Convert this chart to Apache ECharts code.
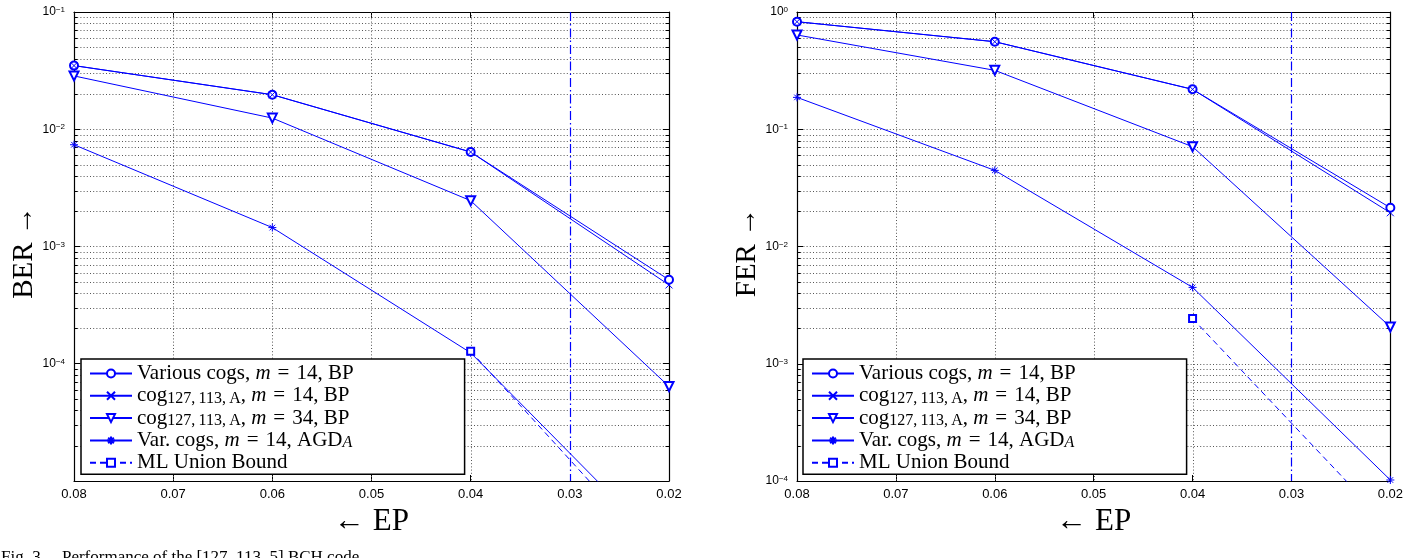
<!DOCTYPE html>
<html>
<head>
<meta charset="utf-8">
<script src="https://cdn.jsdelivr.net/npm/echarts@6/dist/echarts.min.js"></script>
<style>
html,body{margin:0;padding:0;background:#fff;}
#c{width:1406px;height:558px;}
</style>
</head>
<body>
<div id="c"></div>
<script>
// ---- data ----
const epPoints = [0.08, 0.06, 0.04, 0.02];
const mlPoints = [0.04, 0.02];
const xTicks = [0.08, 0.07, 0.06, 0.05, 0.04, 0.03, 0.02];

const berVarious = [0.0349, 0.0197, 0.0064, 5.2e-4];
const berCog14   = [0.0349, 0.0197, 0.0064, 4.7e-4];
const berCog34   = [0.0285, 0.01245, 0.00246, 6.4e-5];
const berAGD     = [0.00738, 0.00145, 1.24e-4, 2.4e-6];
const berML      = [1.28e-4, 1.8e-6];

const ferVarious = [0.826, 0.558, 0.219, 0.0214];
const ferCog14   = [0.826, 0.558, 0.219, 0.0194];
const ferCog34   = [0.637, 0.318, 0.071, 2.06e-3];
const ferAGD     = [0.187, 0.0446, 4.48e-3, 1.02e-4];
const ferML      = [2.43e-3, 4.0e-5];

const seriesNames = [
  'Various cogs, m = 14, BP',
  'cog127,113,A, m = 14, BP',
  'cog127,113,A, m = 34, BP',
  'Var. cogs, m = 14, AGDA',
  'ML Union Bound'
];
const EQ = '\u2004=\u2004';
const SUB = '127,\u2009113,\u2009A';
const legendRich = {
  'Various cogs, m = 14, BP': '{t|Various cogs, }{i|m}{t|' + EQ + '14, BP}',
  'cog127,113,A, m = 14, BP': '{t|cog}{sub|' + SUB + '}{t|, }{i|m}{t|' + EQ + '14, BP}',
  'cog127,113,A, m = 34, BP': '{t|cog}{sub|' + SUB + '}{t|, }{i|m}{t|' + EQ + '34, BP}',
  'Var. cogs, m = 14, AGDA': '{t|Var. cogs, }{i|m}{t|' + EQ + '14, AGD}{subi|A}',
  'ML Union Bound': '{t|ML Union Bound}'
};
const leftYTicksHidden = [-5];
const cutLine = 0.03;

// ---- helpers ----
const BLUE = '#0000ff';
const serif = '"Liberation Serif", "DejaVu Serif", serif';
const sans = '"Liberation Sans", Arial, sans-serif';
const DOT = [1, 2.2];
const GRIDC = '#555';

function pair(xs, ys) { return xs.map((x, i) => [x, ys[i]]); }

function minorVals(lo, hi) {
  const arr = [];
  for (let e = lo; e < hi; e++) {
    for (let k = 2; k <= 9; k++) arr.push([0.05, k * Math.pow(10, e)]);
  }
  return arr;
}

function yLabel(hidden) {
  return function (v) {
    const e = Math.round(Math.log10(v));
    if (hidden.indexOf(e) >= 0) return '';
    return '{b|10}{s|' + (e < 0 ? '\u2212' : '') + Math.abs(e) + '}';
  };
}
const yRich = {
  b: { fontFamily: sans, fontSize: 12, lineHeight: 12, verticalAlign: 'bottom', color: '#000' },
  s: { fontFamily: sans, fontSize: 8, lineHeight: 8, verticalAlign: 'top', padding: [0, 0, 9, 0], color: '#000' }
};

function gridSeries(xi, yi, lo, hi, ymin) {
  return [
    {
      type: 'custom', xAxisIndex: xi, yAxisIndex: yi, silent: true, z: 1,
      data: minorVals(lo, hi), encode: { x: 0, y: 1 },
      renderItem: function (params, api) {
        const cs = params.coordSys;
        const y = Math.round(api.coord([api.value(0), api.value(1)])[1]) + 0.5;
        return { type: 'group', silent: true, children: [
          { type: 'line', silent: true,
            shape: { x1: cs.x, y1: y, x2: cs.x + cs.width, y2: y },
            style: { stroke: GRIDC, lineWidth: 1, lineDash: DOT } },
          { type: 'line', silent: true,
            shape: { x1: cs.x, y1: y, x2: cs.x + 3.5, y2: y },
            style: { stroke: '#000', lineWidth: 1 } },
          { type: 'line', silent: true,
            shape: { x1: cs.x + cs.width - 3.5, y1: y, x2: cs.x + cs.width, y2: y },
            style: { stroke: '#000', lineWidth: 1 } }
        ] };
      }
    },
    {
      type: 'custom', xAxisIndex: xi, yAxisIndex: yi, silent: true, z: 1,
      data: xTicks.filter(x => x !== cutLine).slice(1, -1).map(x => [x, ymin]), encode: { x: 0, y: 1 },
      renderItem: function (params, api) {
        const cs = params.coordSys;
        const x = Math.round(api.coord([api.value(0), api.value(1)])[0]) + 0.5;
        return { type: 'line', silent: true,
          shape: { x1: x, y1: cs.y, x2: x, y2: cs.y + cs.height },
          style: { stroke: GRIDC, lineWidth: 1, lineDash: DOT } };
      }
    },
    {
      type: 'custom', xAxisIndex: xi, yAxisIndex: yi, silent: true, z: 4,
      data: [[cutLine, ymin]], encode: { x: 0, y: 1 },
      renderItem: function (params, api) {
        const cs = params.coordSys;
        const x = Math.round(api.coord([api.value(0), api.value(1)])[0]) + 0.5;
        return { type: 'line', silent: true,
          shape: { x1: x, y1: cs.y, x2: x, y2: cs.y + cs.height },
          style: { stroke: BLUE, lineWidth: 1.2, lineDash: [9, 3, 1.5, 3] } };
      }
    }
  ];
}

function makeSeries(xi, yi, data) {
  const [v, c14, c34, agd, ml] = data;
  const base = { type: 'line', xAxisIndex: xi, yAxisIndex: yi, z: 3,
    itemStyle: { color: BLUE, borderColor: BLUE, borderWidth: 1 } };
  return [
    Object.assign({}, base, {
      name: seriesNames[0], data: pair(epPoints, v), symbol: 'emptyCircle', symbolSize: 8,
      lineStyle: { color: BLUE, width: 1 } }),
    Object.assign({}, base, {
      name: seriesNames[1], data: pair(epPoints, c14), symbol: 'path://M0,0L10,10M10,0L0,10', symbolSize: 7,
      lineStyle: { color: BLUE, width: 1 } }),
    Object.assign({}, base, {
      name: seriesNames[2], data: pair(epPoints, c34), symbol: 'emptyTriangle', symbolRotate: 180, symbolSize: 9,
      lineStyle: { color: BLUE, width: 1 } }),
    Object.assign({}, base, {
      name: seriesNames[3], data: pair(epPoints, agd),
      symbol: 'path://M5,0L5,10M0,5L10,5M1.5,1.5L8.5,8.5M8.5,1.5L1.5,8.5', symbolSize: 8,
      lineStyle: { color: BLUE, width: 1 } }),
    Object.assign({}, base, {
      name: seriesNames[4], data: pair(mlPoints, ml), symbol: 'emptyRect', symbolSize: 7,
      lineStyle: { color: BLUE, width: 1, type: [6, 4] } })
  ];
}

function xAxes(gi) {
  return [
    {
      gridIndex: gi, type: 'value', min: 0.02, max: 0.08, interval: 0.01, inverse: true,
      position: 'bottom',
      axisLine: { show: true, onZero: false, lineStyle: { color: '#000', width: 1.2 } },
      axisTick: { show: true, inside: true, length: 6, lineStyle: { color: '#000' } },
      axisLabel: { show: true, margin: 7, fontFamily: sans, fontSize: 13, color: '#000',
        formatter: v => v.toFixed(2) },
      splitLine: { show: false },
      name: '\u2190 EP', nameLocation: 'middle', nameGap: 13,
      nameTextStyle: { fontFamily: serif, fontSize: 31, color: '#000' }
    },
    {
      gridIndex: gi, type: 'value', min: 0.02, max: 0.08, interval: 0.01, inverse: true,
      position: 'top',
      axisLine: { show: true, onZero: false, lineStyle: { color: '#000', width: 1.2 } },
      axisTick: { show: true, inside: true, length: 6, lineStyle: { color: '#000' } },
      axisLabel: { show: false }, splitLine: { show: false }
    }
  ];
}

function yAxes(gi, min, max, hidden, name) {
  return [
    {
      gridIndex: gi, type: 'log', logBase: 10, min: min, max: max, position: 'left',
      axisLine: { show: true, onZero: false, lineStyle: { color: '#000', width: 1.2 } },
      axisTick: { show: true, inside: true, length: 6, lineStyle: { color: '#000' } },
      axisLabel: { show: true, margin: 9, formatter: yLabel(hidden), rich: yRich },
      splitLine: { show: true, lineStyle: { type: DOT, color: GRIDC, width: 1 } },
      minorTick: { show: false },
      name: name, nameLocation: 'middle', nameRotate: 90, nameGap: 33,
      nameTextStyle: { fontFamily: serif, fontSize: 29, color: '#000', padding: [0, 12, 0, 0] }
    },
    {
      gridIndex: gi, type: 'log', logBase: 10, min: min, max: max, position: 'right',
      axisLine: { show: true, onZero: false, lineStyle: { color: '#000', width: 1.2 } },
      axisTick: { show: true, inside: true, length: 6, lineStyle: { color: '#000' } },
      axisLabel: { show: false }, splitLine: { show: false }
    }
  ];
}

function legendCfg(left) {
  return {
    left: left, top: 359, orient: 'vertical', data: seriesNames,
    backgroundColor: '#fff', borderColor: '#000', borderWidth: 1.5, borderRadius: 0,
    padding: [4, 111, 1, 8], itemWidth: 42, itemHeight: 10, itemGap: 1.3,
    selectedMode: false,
    formatter: n => legendRich[n],
    textStyle: {
      fontFamily: serif, fontSize: 21, color: '#000',
      rich: {
        t: { fontFamily: serif, fontSize: 21, lineHeight: 21, verticalAlign: 'bottom', color: '#000' },
        i: { fontFamily: serif, fontSize: 21, fontStyle: 'italic', lineHeight: 21, verticalAlign: 'bottom', color: '#000' },
        sub: { fontFamily: serif, fontSize: 16, lineHeight: 11, verticalAlign: 'bottom', color: '#000' },
        subi: { fontFamily: serif, fontSize: 16, fontStyle: 'italic', lineHeight: 11, verticalAlign: 'bottom', color: '#000' }
      }
    }
  };
}

const chart = echarts.init(document.getElementById('c'), null, { renderer: 'canvas' });
chart.setOption({
  animation: false,
  backgroundColor: '#fff',
  grid: [
    { left: 74, right: 737, top: 12, bottom: 77 },
    { left: 797, right: 14, top: 12, bottom: 77 }
  ],
  xAxis: [].concat(xAxes(0), xAxes(1)),
  yAxis: [].concat(yAxes(0, 1e-5, 1e-1, leftYTicksHidden, 'BER \u2192'), yAxes(1, 1e-4, 1, [], 'FER \u2192')),
  legend: [legendCfg(81), legendCfg(803)],
  series: [].concat(
    gridSeries(0, 0, -5, -1, 1e-5),
    makeSeries(0, 0, [berVarious, berCog14, berCog34, berAGD, berML]),
    gridSeries(2, 2, -4, 0, 1e-4),
    makeSeries(2, 2, [ferVarious, ferCog14, ferCog34, ferAGD, ferML])
  ),
  graphic: [{
    type: 'text', left: 1, top: 549,
    style: { text: 'Fig. 3.    Performance of the [127, 113, 5] BCH code.', font: '17px "Liberation Serif"', fill: '#000' }
  }]
});
</script>
</body>
</html>
